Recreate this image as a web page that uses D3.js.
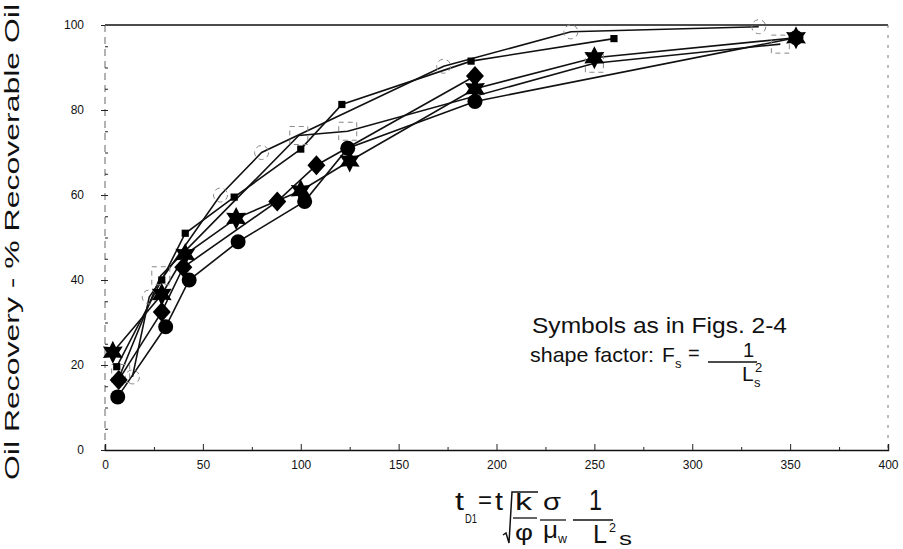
<!DOCTYPE html>
<html>
<head>
<meta charset="utf-8">
<script src="https://cdn.jsdelivr.net/npm/d3@7"></script>
<style>
  body { margin: 0; background: #fff; }
  svg { display: block; font-family: "Liberation Sans", Arial, sans-serif; }
</style>
</head>
<body>
<svg id="chart" width="903" height="549"></svg>
<script>
// Oil recovery vs dimensionless time t_D1 - six runs

const xTicks = [0, 50, 100, 150, 200, 250, 300, 350, 400];
const yTicks = [0, 20, 40, 60, 80, 100];

// [t_D1, recovery %]
const circleRun = [[6.5, 12.5], [31, 29], [43, 40], [68, 49], [102, 58.5], [124, 71], [189, 82], [353, 97]];
const diamondRun = [[7, 16.5], [29, 32.5], [40, 43], [88, 58.5], [108, 67], [189, 88]];
const starRun = [[4, 23], [29, 36.6], [41, 46], [67, 54.5], [100, 61], [125, 68], [189, 85], [250, 92.3], [353, 97]];
const squareRun = [[6, 19.6], [29, 40], [41, 51], [66, 59.5], [100, 70.8], [121, 81.3], [187, 91.5], [260, 96.8]];
const openCircleRun = [[14, 17.2], [22.6, 36], [59, 60], [80, 70], [173, 90.3], [238, 98.4], [334, 99.6]];
const openSquareRun = [[8, 18], [28.5, 41], [99, 74], [124, 75], [250, 91], [345, 95.5]];

const svg = d3.select('#chart');

// Scales
const x = d3.scaleLinear().domain([0, 400]).range([105, 888]);
const y = d3.scaleLinear().domain([0, 100]).range([450, 25]);

// Frame - top and bottom solid, left/right look broken in the scan
svg.append('line')
    .attr('x1', x(0)).attr('x2', x(400)).attr('y1', y(100)).attr('y2', y(100))
    .attr('stroke', '#111').attr('stroke-width', 1.4);
svg.append('line')
    .attr('x1', x(400)).attr('x2', x(400)).attr('y1', y(100)).attr('y2', y(0))
    .attr('stroke', '#777').attr('stroke-width', 1).attr('stroke-dasharray', '3,7');
svg.append('line')
    .attr('x1', x(0)).attr('x2', x(0)).attr('y1', y(100)).attr('y2', y(0))
    .attr('stroke', '#666').attr('stroke-width', 1).attr('stroke-dasharray', '7,5');

// x axis: labelled ticks every 50, small ones every 25, all pointing inward
const xAxis = svg.append('g')
    .attr('transform', `translate(0,${y(0)})`)
    .call(d3.axisBottom(x).tickValues(xTicks).tickSize(-6).tickPadding(10).tickFormat(d3.format('d')));
svg.append('g')
    .attr('transform', `translate(0,${y(0)})`)
    .call(d3.axisBottom(x).tickValues(d3.range(25, 400, 50)).tickSize(-3).tickFormat(''))
    .select('.domain').remove();
xAxis.select('.domain').attr('stroke', '#111').attr('stroke-width', 1.4);

// y axis: labelled ticks every 20, small ones every 5
const yAxis = svg.append('g')
    .attr('transform', `translate(${x(0)},0)`)
    .call(d3.axisLeft(y).tickValues(yTicks).tickSize(4).tickPadding(17));
yAxis.select('.domain').remove();
svg.append('g')
    .attr('transform', `translate(${x(0)},0)`)
    .call(d3.axisLeft(y).tickValues(d3.range(5, 100, 5)).tickSize(-3).tickFormat(''))
    .select('.domain').remove();

svg.selectAll('.tick text')
    .attr('font-family', '"Liberation Sans", Arial, sans-serif')
    .attr('font-size', 12)
    .attr('fill', '#111');
svg.selectAll('.tick line').attr('stroke', '#222');

// Marker shapes
function starPath(R, r) {
  const pts = d3.range(12).map(i => {
    const a = Math.PI / 6 * i - Math.PI / 2;
    const rad = i % 2 === 0 ? R : r;
    return [rad * Math.cos(a), rad * Math.sin(a)];
  });
  return 'M' + pts.join('L') + 'Z';
}
const shapes = {
  circle: d3.symbol(d3.symbolCircle, Math.PI * 7.5 * 7.5)(),
  diamond: 'M0,-10L9,0L0,10L-9,0Z',
  star: starPath(11.5, 6.2),
  square: 'M-3.6,-3.6H3.6V3.6H-3.6Z',
  openCircle: d3.symbol(d3.symbolCircle, Math.PI * 7 * 7)(),
  openSquare: 'M-9,-9H9V9H-9Z'
};

const runs = [
  { pts: openCircleRun, mark: 'openCircle', open: true },
  { pts: openSquareRun, mark: 'openSquare', open: true },
  { pts: squareRun, mark: 'square', open: false },
  { pts: circleRun, mark: 'circle', open: false },
  { pts: starRun, mark: 'star', open: false },
  { pts: diamondRun, mark: 'diamond', open: false }
];

const line = d3.line().x(d => x(d[0])).y(d => y(d[1]));

// Lines first so the symbols sit on top
svg.append('g').selectAll('path')
    .data(runs)
    .join('path')
    .attr('d', d => line(d.pts))
    .attr('fill', 'none')
    .attr('stroke', '#111')
    .attr('stroke-width', 1.6);

runs.forEach(run => {
  svg.append('g').selectAll('path')
      .data(run.pts)
      .join('path')
      .attr('transform', d => `translate(${x(d[0])},${y(d[1])})`)
      .attr('d', shapes[run.mark])
      .attr('fill', run.open ? 'none' : '#000')
      .attr('stroke', run.open ? '#888' : 'none')
      .attr('stroke-width', 1)
      .attr('stroke-dasharray', run.open ? '5,4' : null);
});

// Axis titles (the scan is stretched along the text, hence textLength)
svg.append('text')
    .attr('transform', 'translate(19,242) rotate(-90)')
    .attr('text-anchor', 'middle')
    .attr('font-size', 20)
    .attr('textLength', 476)
    .attr('lengthAdjust', 'spacingAndGlyphs')
    .attr('fill', '#111')
    .text('Oil Recovery - % Recoverable Oil');

// small helper for the hand-set formula pieces
function put(g, tx, ty, s, size, len) {
  const t = g.append('text').attr('x', tx).attr('y', ty).attr('font-size', size).text(s);
  if (len) t.attr('textLength', len).attr('lengthAdjust', 'spacingAndGlyphs');
  return t;
}
function bar(g, x1, x2, yy) {
  g.append('line').attr('x1', x1).attr('x2', x2).attr('y1', yy).attr('y2', yy)
      .attr('stroke', '#111').attr('stroke-width', 1.3);
}

// Formula under the x axis: t_D1 = t sqrt(k/phi) sigma/mu_w 1/L_s^2
const f = svg.append('g').attr('fill', '#111');
put(f, 455, 510, 't', 26, 9);
put(f, 465, 523, 'D1', 13, 12);
put(f, 478, 508, '=', 24, 14);
put(f, 495, 510, 't', 26, 8);
f.append('path')
    .attr('d', 'M503,535L506,533L509,543L512,492L538,492')
    .attr('fill', 'none').attr('stroke', '#111').attr('stroke-width', 1.5);
put(f, 515, 510, 'k', 24, 17);
bar(f, 513, 537, 518);
put(f, 515, 540, 'φ', 22, 18);
put(f, 543, 510, 'σ', 23, 18);
bar(f, 540, 566, 520);
put(f, 543, 538, 'μ', 23, 15);
put(f, 558, 543, 'w', 12, 9);
put(f, 589, 510, '1', 30, 13);
bar(f, 573, 613, 520);
put(f, 593, 543, 'L', 26, 14);
put(f, 609, 532, '2', 13, 7);
put(f, 619, 545, 's', 18, 13);

// Annotation
const note = svg.append('g').attr('fill', '#111');
note.append('text')
    .attr('x', 532).attr('y', 333)
    .attr('font-size', 22)
    .attr('textLength', 255)
    .attr('lengthAdjust', 'spacingAndGlyphs')
    .text('Symbols as in Figs. 2-4');
put(note, 530, 362, 'shape factor:', 21, 124);
put(note, 662, 362, 'F', 21);
put(note, 675, 368, 's', 13);
put(note, 688, 360, '=', 20);
bar(note, 708, 757, 362);
put(note, 743, 357, '1', 20);
put(note, 742, 381, 'L', 21);
put(note, 755, 372, '2', 13);
put(note, 754, 387, 's', 13);
</script>
</body>
</html>
